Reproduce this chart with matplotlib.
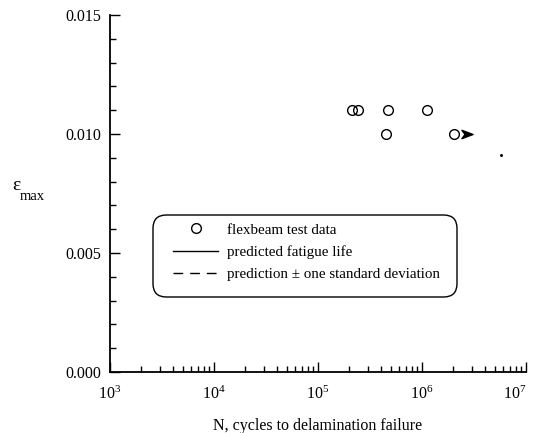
import matplotlib
matplotlib.use("Agg")
import matplotlib.pyplot as plt
from matplotlib.path import Path
from matplotlib.lines import Line2D
from matplotlib.patches import FancyBboxPatch
from matplotlib.ticker import LogLocator, LogFormatterMathtext, MultipleLocator, FixedLocator
import numpy as np

plt.rcParams['font.family'] = ['Liberation Serif', 'DejaVu Serif']
plt.rcParams['mathtext.fontset'] = 'custom'
plt.rcParams['mathtext.rm'] = 'Liberation Serif'
plt.rcParams['mathtext.it'] = 'Liberation Serif:italic'
plt.rcParams['mathtext.bf'] = 'Liberation Serif:bold'

# data
test_N = [2.12e5, 2.43e5, 4.71e5, 1.12e6, 4.51e5, 2.03e6]
test_eps = [0.011, 0.011, 0.011, 0.011, 0.010, 0.010]
runout_N = [2.7e6]
runout_eps = [0.010]
pred_N = [5.7e6]
pred_eps = [0.0091]

x_ticks = [1e3, 1e4, 1e5, 1e6, 1e7]
y_ticks = [0.000, 0.005, 0.010, 0.015]
y_tick_labels = ["0.000", "0.005", "0.010", "0.015"]

W, H = 535, 433
fig = plt.figure(figsize=(W/100, H/100), dpi=100)
ax = fig.add_axes([110/W, 1-372/H, (526-110)/W, (372-15)/H])

ax.set_xscale('log')
ax.set_xlim(1e3, 1e7)
ax.set_ylim(0, 0.015)

# arrow marker for runout
arrow = Path([(-1, 0.75), (1, 0), (-1, -0.75), (-0.45, 0), (-1, 0.75)],
             [Path.MOVETO, Path.LINETO, Path.LINETO, Path.LINETO, Path.CLOSEPOLY])

h_data, = ax.plot(test_N, test_eps, linestyle='none', marker='o', markersize=7,
                  markerfacecolor='none', markeredgecolor='black', markeredgewidth=1.0,
                  label='flexbeam test data')
ax.plot(runout_N, runout_eps, linestyle='none', marker=arrow, markersize=8,
        color='black')
ax.plot(pred_N, pred_eps, color='black', linewidth=1, marker='s', markersize=1)
h_pred = Line2D([], [], color='black', linewidth=1, label='predicted fatigue life')
h_sd = Line2D([], [], color='black', linewidth=1, linestyle=(0, (7, 5)),
              label='prediction \u00b1 one standard deviation')

for s in ['top', 'right']:
    ax.spines[s].set_visible(False)
ax.spines['left'].set_linewidth(1.3)
ax.spines['bottom'].set_linewidth(1.3)

ax.xaxis.set_major_locator(FixedLocator(x_ticks))
ax.xaxis.set_major_formatter(LogFormatterMathtext())
ax.xaxis.set_minor_locator(LogLocator(base=10, subs=np.arange(2, 10), numticks=20))
ax.yaxis.set_major_locator(FixedLocator(y_ticks))
ax.set_yticklabels(y_tick_labels)
ax.yaxis.set_minor_locator(MultipleLocator(0.001))

ax.tick_params(which='major', direction='in', length=7, width=1, labelsize=11.5, pad=6)
ax.tick_params(which='minor', direction='in', length=4.5, width=1)
ax.tick_params(axis='x', which='major', pad=10)
ax.get_xticklabels()[-1].set_horizontalalignment('right')

ax.set_xlabel('N, cycles to delamination failure', fontsize=11.5, labelpad=11)
fig.text(12/W, 1-186/H, '\u03b5', fontsize=14, ha='left', va='center')
fig.text(20/W, 1-197/H, 'max', fontsize=10.5, ha='left', va='center')

# legend box (rounded)
box = FancyBboxPatch((153/W, 1-297/H), (457-153)/W, (297-215)/H,
                     boxstyle='round,pad=0,rounding_size=0.025',
                     transform=fig.transFigure, facecolor='white',
                     edgecolor='black', linewidth=1.0, zorder=4,
                     mutation_aspect=W/H)
fig.add_artist(box)

leg = fig.legend(handles=[h_data, h_pred, h_sd], loc='upper left',
                 bbox_to_anchor=(173/W, 1-223/H),
                 fontsize=10.8, frameon=False,
                 handlelength=3.0, borderpad=0, labelspacing=0.58,
                 handletextpad=0.6, borderaxespad=0)
leg.set_zorder(5)

fig.savefig('out.png', dpi=100)
